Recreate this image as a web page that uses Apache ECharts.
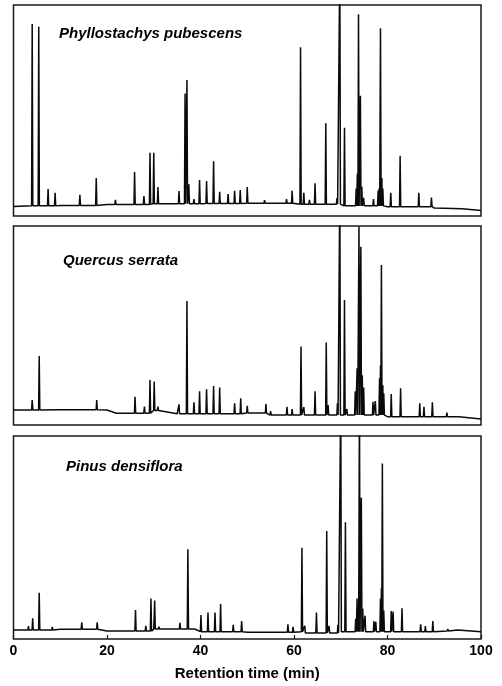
<!DOCTYPE html>
<html>
<head>
<meta charset="utf-8">
<script src="https://cdn.jsdelivr.net/npm/echarts@6/dist/echarts.min.js"></script>
<style>
html,body{margin:0;padding:0;background:#fff;}
#chart{width:502px;height:686px;}
</style>
</head>
<body>
<div id="chart"></div>
<script>
// ---- data ----
const xTicks = [0, 20, 40, 60, 80, 100];
const speciesNames = ['Phyllostachys pubescens', 'Quercus serrata', 'Pinus densiflora'];
const xAxisTitle = 'Retention time (min)';

// Panel 1: Phyllostachys pubescens
const p1BaseTimes  = [0, 4, 10, 20, 30, 40, 50, 60, 70, 80, 90, 96, 100];
const p1BaseValues = [4.5, 4.8, 5, 5.5, 5.8, 5.9, 6, 5.6, 4.8, 4.4, 3.8, 3.4, 2.6];
const p1PeakTimes   = [4.0, 5.4, 7.4, 8.9, 14.2, 17.7, 21.8, 25.9, 27.9, 29.2, 30.0, 30.9, 35.4, 36.7, 37.1, 37.5, 38.6, 39.8, 41.3, 42.8, 44.1, 45.9, 47.3, 48.5, 50.0, 51.2, 53.7, 58.4, 59.6, 61.4, 62.1, 63.3, 64.5, 66.8, 69.2, 69.8, 70.8, 73.3, 73.55, 73.8, 74.2, 74.5, 74.9, 77.0, 78.0, 78.2, 78.5, 78.8, 79.0, 80.7, 82.7, 86.7, 89.4];
const p1PeakHeights = [91, 89.7, 12.8, 11, 10, 18, 7.6, 20.9, 9.5, 30, 30, 13.7, 11.8, 58, 64.5, 15, 8, 17, 16.6, 26, 11.5, 10.4, 12, 12.3, 13.7, 6.5, 7.5, 8, 12, 80, 11, 7.6, 15.5, 44, 8.5, 120, 41.8, 13, 20, 95.6, 57, 14, 8.6, 8, 12, 13, 89, 18, 13, 11, 28.6, 11, 8.7];

// Panel 2: Quercus serrata
const p2BaseTimes  = [0, 10, 20, 22, 30, 35, 40, 50, 55, 60, 70, 80, 90, 100];
const p2BaseValues = [7.5, 7.7, 7.5, 5.9, 7.3, 5.6, 5.6, 6, 5, 5, 5, 4.2, 4.2, 3];
const p2PeakTimes   = [4.0, 5.5, 14.6, 17.8, 26.0, 28.0, 29.2, 30.1, 30.9, 35.4, 37.1, 38.6, 39.8, 41.3, 42.8, 44.1, 47.3, 48.6, 50.0, 54.0, 55.0, 58.5, 59.6, 61.5, 62.1, 64.5, 66.9, 67.3, 69.3, 69.8, 70.8, 71.3, 73.1, 73.5, 73.9, 74.3, 74.6, 74.9, 76.9, 77.4, 78.3, 78.5, 78.7, 79.0, 79.2, 80.8, 82.8, 86.9, 87.8, 89.6, 92.7, 95.4];
const p2PeakHeights = [12.6, 34.7, 8.7, 12.6, 14.2, 9.2, 22.6, 21.8, 9.2, 10.4, 62.3, 11.4, 17, 17.9, 19.6, 18.8, 10.9, 13.4, 9.7, 10.5, 7, 9.2, 8, 39.4, 9, 17, 41.5, 10, 11, 120, 62.8, 8, 17, 28.5, 99.7, 89.6, 25, 18.8, 11.7, 12, 23.5, 30, 80.4, 20, 16, 15.6, 18.4, 10.9, 9.2, 11.4, 6.2, 5];

// Panel 3: Pinus densiflora
const p3BaseTimes  = [0, 10, 20, 30, 40, 50, 60, 62, 70, 80, 90, 95, 100];
const p3BaseValues = [4.4, 4.8, 3.9, 4.9, 3.6, 3.3, 3.6, 3.0, 3.6, 3.6, 4, 4.4, 3.6];
const p3PeakTimes   = [3.2, 4.1, 5.5, 8.3, 14.6, 17.9, 26.1, 28.3, 29.4, 30.2, 31.1, 35.6, 37.3, 38.9, 40.1, 41.6, 43.1, 44.3, 47.0, 48.8, 58.7, 59.8, 61.7, 62.3, 64.8, 67.0, 67.5, 69.4, 70.0, 71.0, 73.2, 73.5, 73.7, 74.0, 74.4, 74.7, 75.2, 77.1, 77.5, 78.5, 78.7, 78.9, 79.2, 80.8, 81.2, 83.1, 87.1, 88.1, 89.7, 92.9];
const p3PeakHeights = [6.4, 10.2, 22.8, 6, 8.2, 8.2, 14.3, 6.5, 20, 18.9, 6, 8, 44.2, 5, 11.8, 13.1, 13.1, 17.2, 7, 8.9, 7.2, 6, 45, 6.5, 13.1, 53.2, 6.5, 7, 120, 57.5, 10, 20, 14, 120, 69.6, 15, 11.5, 8.9, 8.5, 20, 25, 86.5, 14, 13.8, 13.5, 15.1, 7.2, 6.4, 8.9, 5];

// ---- build traces from the arrays ----
const PEAK_HALF_WIDTH = 0.13;
function buildTrace(baseT, baseV, peakT, peakH) {
  const footValue = t => { let v = baseV[0]; for (let i = 0; i < baseT.length; i++) if (baseT[i] <= t) v = baseV[i]; return v; };
  const pts = baseT.map((t, i) => [t, baseV[i]]);
  peakT.forEach((t, i) => {
    const b = footValue(t);
    pts.push([t - PEAK_HALF_WIDTH, b], [t, peakH[i]], [t + PEAK_HALF_WIDTH, b]);
  });
  pts.sort((a, b) => a[0] - b[0]);
  return pts;
}
const traces = [
  buildTrace(p1BaseTimes, p1BaseValues, p1PeakTimes, p1PeakHeights),
  buildTrace(p2BaseTimes, p2BaseValues, p2PeakTimes, p2PeakHeights),
  buildTrace(p3BaseTimes, p3BaseValues, p3PeakTimes, p3PeakHeights)
];

// ---- layout ----
const gridBoxes = [
  { top: 5, height: 211 },
  { top: 226, height: 199 },
  { top: 436, height: 203 }
];
const labelCenters = [[59, 35], [63, 262], [66, 468]];

const chart = echarts.init(document.getElementById('chart'), null, { renderer: 'canvas' });
const option = {
  animation: false,
  backgroundColor: '#fff',
  grid: gridBoxes.map(g => ({
    left: 13.5, right: 21, top: g.top, height: g.height,
    show: true, borderColor: '#1a1a1a', borderWidth: 1.5, backgroundColor: 'transparent'
  })),
  xAxis: gridBoxes.map((g, i) => ({
    type: 'value', gridIndex: i, min: xTicks[0], max: xTicks[xTicks.length - 1], interval: 20,
    splitLine: { show: false },
    axisLine: { show: false },
    axisTick: { show: i === 2, inside: true, length: 4, lineStyle: { color: '#1a1a1a', width: 1.2 } },
    axisLabel: {
      show: i === 2, margin: 5, color: '#000',
      fontFamily: '"Liberation Sans", Arial, sans-serif', fontWeight: 'bold', fontSize: 14
    },
    name: i === 2 ? xAxisTitle : '',
    nameLocation: 'middle', nameGap: 27,
    nameTextStyle: { color: '#000', fontFamily: '"Liberation Sans", Arial, sans-serif', fontWeight: 'bold', fontSize: 15 }
  })),
  yAxis: gridBoxes.map((g, i) => ({
    type: 'value', gridIndex: i, min: 0, max: 100, show: false, splitLine: { show: false }
  })),
  series: traces.map((d, i) => ({
    type: 'line', xAxisIndex: i, yAxisIndex: i, data: d,
    showSymbol: false, symbol: 'none', clip: true,
    lineStyle: { color: '#0a0a0a', width: 1.5 }
  })),
  graphic: speciesNames.map((name, i) => ({
    type: 'text', left: labelCenters[i][0], top: labelCenters[i][1] - 9,
    style: {
      text: name, fill: '#000',
      font: 'italic bold 15px "Liberation Sans", Arial, sans-serif'
    }
  }))
};
chart.setOption(option);
</script>
</body>
</html>
